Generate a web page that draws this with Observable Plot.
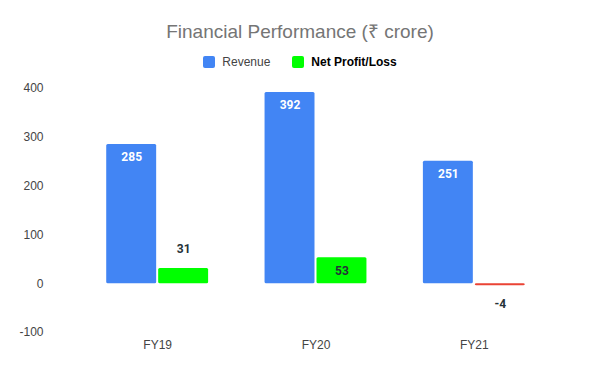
<!DOCTYPE html>
<html>
<head>
<meta charset="utf-8">
<script src="https://cdn.jsdelivr.net/npm/d3@7"></script>
<script src="https://cdn.jsdelivr.net/npm/@observablehq/plot@0.6"></script>
<style>
  body { margin: 0; background: #fff; font-family: Arial, "Liberation Sans", sans-serif; }
  #wrap { width: 600px; height: 371px; position: relative; overflow: hidden; }
  #title { height: 44px; padding-top: 20px; box-sizing: border-box; line-height: 24px; text-align: center; font-size: 19px; color: #757575; }
  #legend { margin-top: 8px; height: 20px; display: flex; justify-content: center; align-items: center; gap: 0; font-size: 12px; color: #444; }
  .item { display: flex; align-items: center; }
  .sw { width: 12px; height: 12px; border-radius: 2px; margin-right: 7px; }
  svg { display: block; }
</style>
</head>
<body>
<div id="wrap">
  <div id="title">Financial Performance (₹ crore)</div>
  <div id="legend"></div>
  <div id="chart"></div>
</div>
<script>
const categories = ["FY19", "FY20", "FY21"];
const seriesNames = ["Revenue", "Net Profit/Loss"];
const revenue = [285, 392, 251];
const netProfit = [31, 53, -4];
const yTicks = [-100, 0, 100, 200, 300, 400];

const BLUE = "#4285F4", GREEN = "#00FF00", RED = "#EA4335", DARK = "#263238";

const data = categories.flatMap((c, i) => [
  {fy: c, series: seriesNames[0], value: revenue[i]},
  {fy: c, series: seriesNames[1], value: netProfit[i]}
]);
const barColor = d => d.series === seriesNames[0] ? BLUE : (d.value < 0 ? RED : GREEN);
const inside = d => Math.abs(d.value) >= 40;

// legend
const legend = document.getElementById("legend");
seriesNames.forEach((s, i) => {
  const it = document.createElement("div");
  it.className = "item";
  it.style.marginRight = i === 0 ? "22px" : "0";
  const sw = document.createElement("div");
  sw.className = "sw";
  sw.style.background = i === 0 ? BLUE : GREEN;
  const t = document.createElement("span");
  t.textContent = s;
  if (i === 1) { t.style.fontWeight = "bold"; t.style.color = "#000"; }
  it.append(sw, t);
  legend.append(it);
});

const chart = Plot.plot({
  width: 600,
  height: 299,
  marginTop: 16,
  marginBottom: 39,
  marginLeft: 78,
  marginRight: 47,
  style: {fontFamily: "Arial, 'Liberation Sans', sans-serif", fontSize: "12px", color: "#444", background: "transparent"},
  fx: {domain: categories, padding: 0, round: false, label: null, axis: "bottom", tickSize: 0, tickPadding: 8},
  x: {domain: seriesNames, axis: null, round: false, paddingInner: 0.0385, paddingOuter: 0.5433},
  y: {domain: [-100, 400], ticks: yTicks, tickSize: 0, tickPadding: 35, label: null, tickFormat: d => String(d)},
  color: {type: "identity"},
  marks: [
    Plot.barY(data, {fx: "fy", x: "series", y: "value", fill: barColor, rx: 1.5}),
    Plot.text(data.filter(inside), {
      fx: "fy", x: "series", y: "value", text: d => String(d.value), dy: 13,
      fill: d => d.series === seriesNames[0] ? "#fff" : DARK,
      fontFamily: "Roboto, sans-serif", fontWeight: "bold", fontSize: 12
    }),
    Plot.text(data.filter(d => !inside(d) && d.value >= 0), {
      fx: "fy", x: "series", y: "value", text: d => String(d.value), dy: -19,
      fill: DARK, fontFamily: "Roboto, sans-serif", fontWeight: "bold", fontSize: 12
    }),
    Plot.text(data.filter(d => !inside(d) && d.value < 0), {
      fx: "fy", x: "series", y: "value", text: d => String(d.value), dy: 19,
      fill: DARK, fontFamily: "Roboto, sans-serif", fontWeight: "bold", fontSize: 12
    })
  ]
});
document.getElementById("chart").append(chart);
</script>
</body>
</html>
